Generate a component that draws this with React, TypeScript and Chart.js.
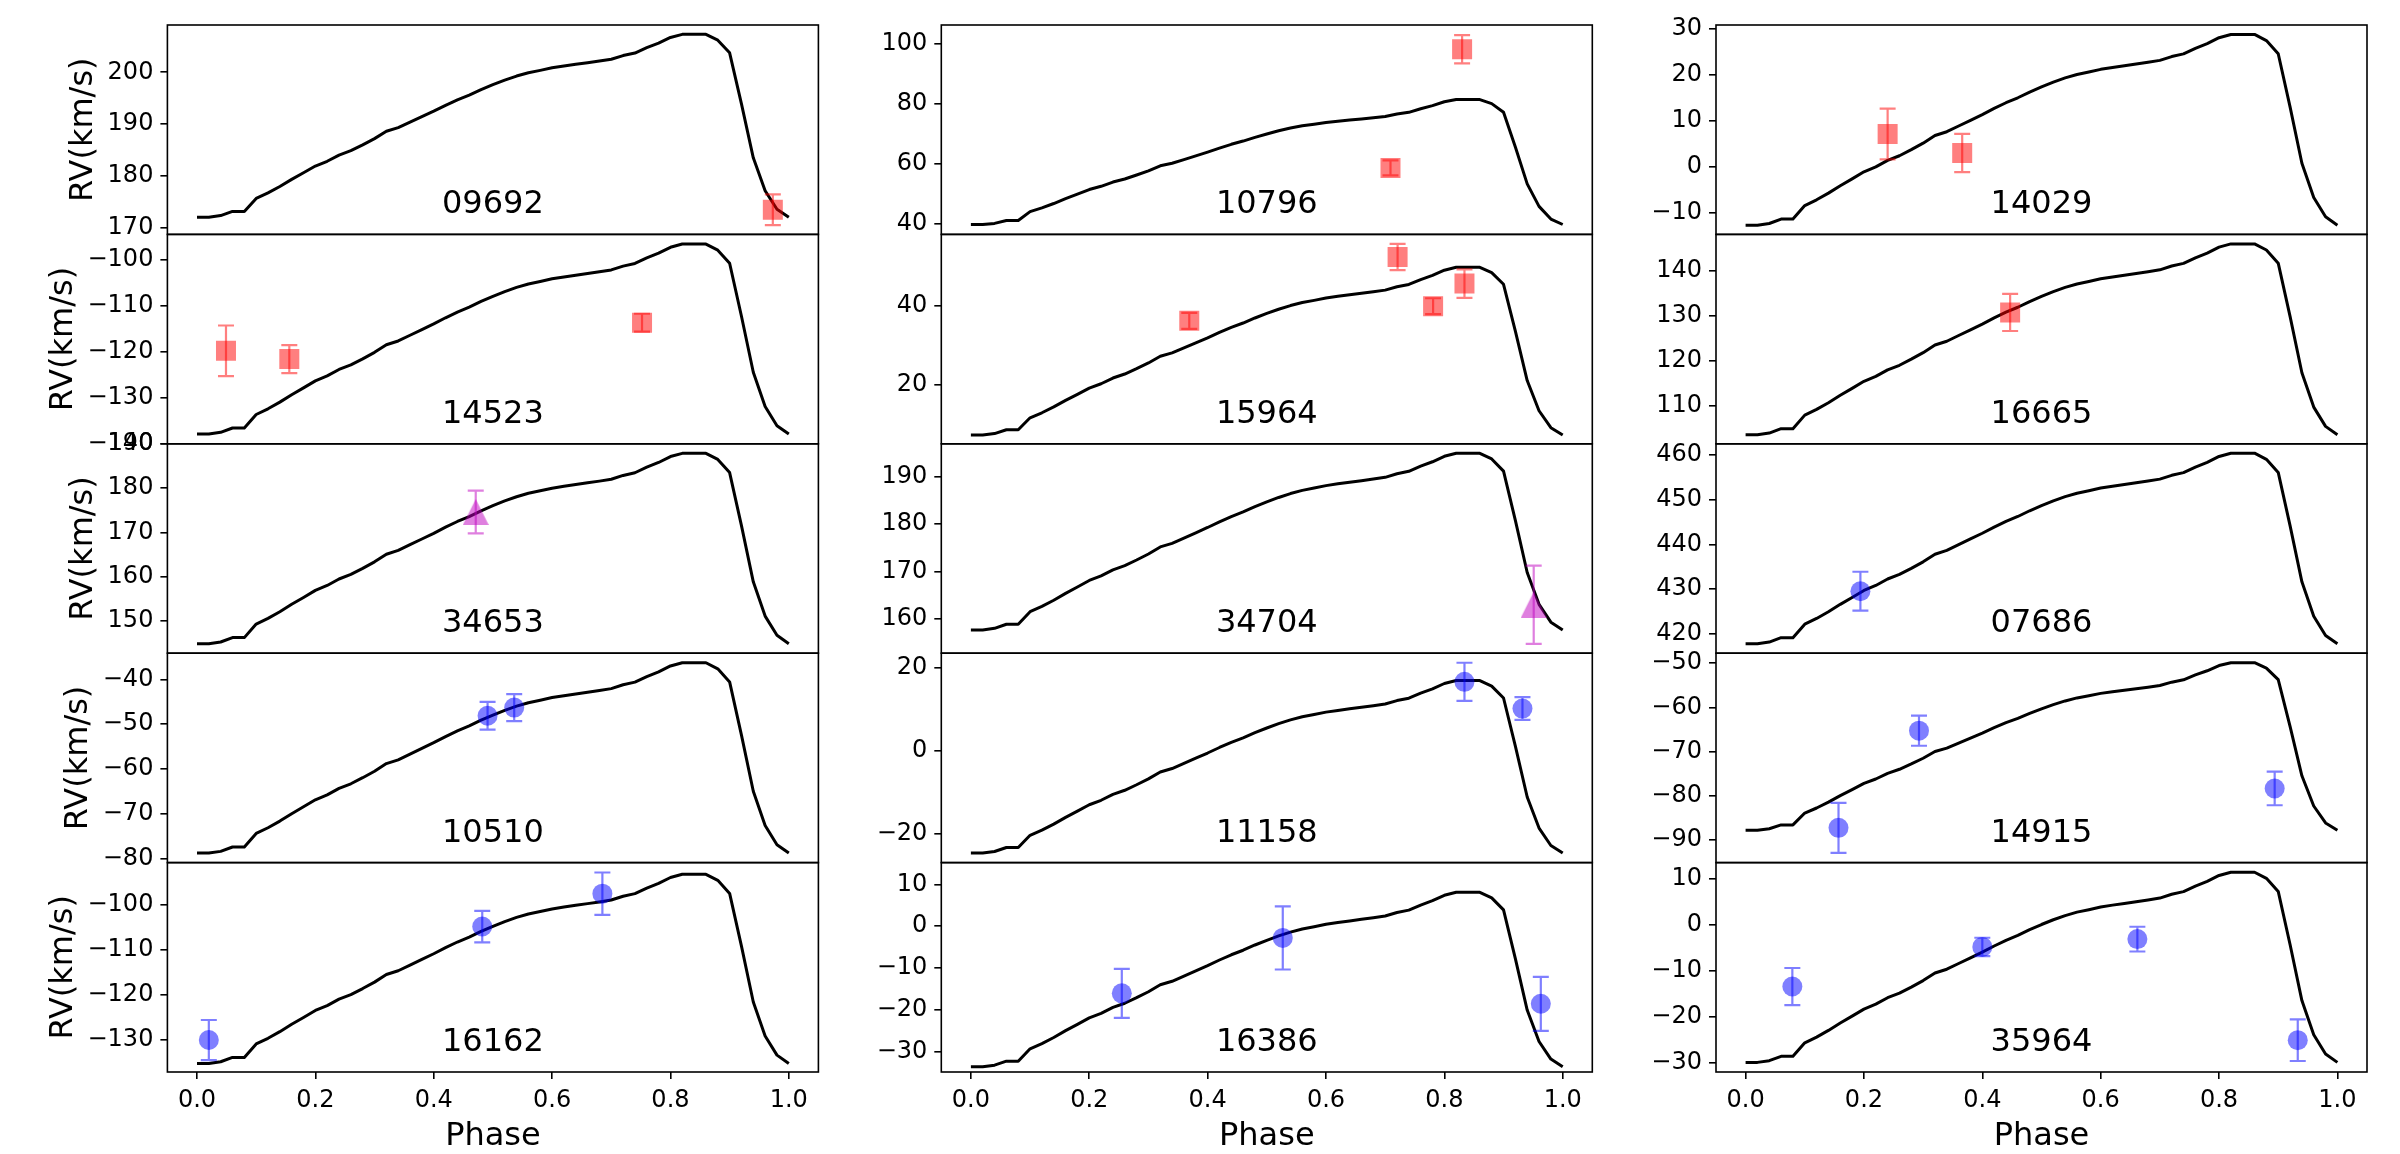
import { useEffect, useRef } from 'react';
import { Chart, registerables } from 'chart.js';

Chart.register(...registerables);

const FONT_FAMILY = "'DejaVu Sans', 'Liberation Sans', sans-serif";
const TICK_FONT = 24;
const LABEL_FONT = 32;

// Star identifiers, row-major (5 rows x 3 columns)
const starIds = [
  '09692', '10796', '14029',
  '14523', '15964', '16665',
  '34653', '34704', '07686',
  '10510', '11158', '14915',
  '16162', '16386', '35964',
];

// RV template: phase grid and normalised shape (0 = minimum, 1 = maximum)
const templatePhase = [
  0.0, 0.02, 0.04, 0.06, 0.08, 0.1, 0.12, 0.14, 0.16, 0.18,
  0.2, 0.22, 0.24, 0.26, 0.28, 0.3, 0.32, 0.34, 0.36, 0.38,
  0.4, 0.42, 0.44, 0.46, 0.48, 0.5, 0.52, 0.54, 0.56, 0.58,
  0.6, 0.62, 0.64, 0.66, 0.68, 0.7, 0.72, 0.74, 0.76, 0.78,
  0.8, 0.82, 0.84, 0.86, 0.88, 0.9, 0.92, 0.94, 0.96, 0.98, 1.0,
];
const templateShape = [
  0.0, 0.0, 0.009, 0.032, 0.032, 0.103, 0.133, 0.168, 0.207, 0.243,
  0.28, 0.306, 0.34, 0.364, 0.396, 0.43, 0.47, 0.49, 0.52, 0.55,
  0.58, 0.612, 0.642, 0.668, 0.698, 0.725, 0.75, 0.772, 0.79, 0.803,
  0.817, 0.827, 0.836, 0.845, 0.854, 0.864, 0.884, 0.898, 0.927, 0.952,
  0.983, 1.0, 1.0, 1.0, 0.968, 0.899, 0.62, 0.325, 0.145, 0.044, 0.0,
];

// Minimum and maximum of the fitted template for each star (km/s)
const curveMin = [
  172.1, 39.8, -12.7,
  -137.9, 7.4, 103.6,
  144.75, 157.7, 417.8,
  -78.7, -24.6, -87.75,
  -135.2, -33.6, -30.0,
];
const curveMax = [
  207.3, 81.5, 28.7,
  -96.6, 49.7, 145.9,
  187.9, 194.9, 460.4,
  -36.3, 17.0, -49.9,
  -93.2, 8.1, 11.5,
];

// y-axis limits and tick values for each panel
const yMin = [
  168.8, 36.5, -14.7,
  -140.02, 5.2, 101.6,
  142.6, 152.8, 415.7,
  -80.82, -26.9, -95.05,
  -137.1, -34.85, -32.1,
];
const yMax = [
  209.1, 106.4, 30.75,
  -94.5, 58.0, 148.0,
  190.06, 196.9, 462.5,
  -34.18, 23.6, -47.75,
  -90.6, 15.2, 13.6,
];
const yTicks = [
  [170, 180, 190, 200], [40, 60, 80, 100], [-10, 0, 10, 20, 30],
  [-140, -130, -120, -110, -100], [20, 40], [110, 120, 130, 140],
  [150, 160, 170, 180, 190], [160, 170, 180, 190], [420, 430, 440, 450, 460],
  [-80, -70, -60, -50, -40], [-20, 0, 20], [-90, -80, -70, -60, -50],
  [-130, -120, -110, -100], [-30, -20, -10, 0, 10], [-30, -20, -10, 0, 10],
];
const phaseTicks = [0.0, 0.2, 0.4, 0.6, 0.8, 1.0];

// Measured radial velocities: phase, RV (km/s), 1-sigma error, marker type
const obsPhase = [
  [0.973], [0.709, 0.83], [0.24, 0.366],
  [0.049, 0.156, 0.752], [0.369, 0.721, 0.781, 0.834], [0.447],
  [0.471], [0.951], [0.194],
  [0.491, 0.536], [0.834, 0.932], [0.157, 0.293, 0.894],
  [0.02, 0.482, 0.685], [0.255, 0.527, 0.963], [0.079, 0.4, 0.662, 0.933],
];
const obsRV = [
  [173.55], [58.7, 98.3], [7.1, 2.95],
  [-119.8, -121.6, -113.7], [36.2, 52.3, 39.9, 45.6], [130.7],
  [174.6], [163.0], [429.55],
  [-48.1, -46.3], [16.7, 10.25], [-87.2, -65.25, -78.3],
  [-130.0, -104.8, -97.5], [-16.05, -2.8, -18.55], [-13.45, -4.8, -3.1, -25.15],
];
const obsErr = [
  [2.95], [2.5, 4.7], [5.5, 4.15],
  [5.5, 3.05, 1.95], [2.0, 3.3, 2.0, 3.6], [4.1],
  [4.85], [8.25], [4.35],
  [3.1, 3.0], [4.6, 2.75], [5.65, 3.4, 3.8],
  [4.45, 3.5, 4.7], [5.85, 7.55, 6.45], [4.05, 2.0, 2.7, 4.55],
];
const obsMarker = [
  'square', 'square', 'square',
  'square', 'square', 'square',
  'triangle', 'triangle', 'circle',
  'circle', 'circle', 'circle',
  'circle', 'circle', 'circle',
];

const markerColor: Record<string, string> = {
  square: 'rgba(255, 0, 0, 0.5)',
  triangle: 'rgba(191, 0, 191, 0.5)',
  circle: 'rgba(0, 0, 255, 0.5)',
};

// Page layout (pixels)
const PAGE_W = 2400;
const PAGE_H = 1154;
const ROWS = 5;
const COLS = 3;
const PLOT_TOP = 25;
const PLOT_BOTTOM = 1072;
const COL_LEFT = [167.4, 941.3, 1716.0];
const COL_WIDTH = 651;
const AXIS_W = 140;
const LEFT_SPACE = 165;
const CANVAS_W = LEFT_SPACE + COL_WIDTH + 24;
const X_AXIS_H = 60;
const TICK_LEN = 7;
const TICK_PAD = 7;
const SPINE_W = 1.6;
const TRIANGLE_SIZE = 26;

const fmtRV = (v: number) => String(Math.round(v)).replace('-', '\u2212');

function triangleImage(color: string) {
  const s = TRIANGLE_SIZE;
  const c = document.createElement('canvas');
  c.width = s;
  c.height = s;
  const g = c.getContext('2d')!;
  g.fillStyle = color;
  g.beginPath();
  g.moveTo(s / 2, 0);
  g.lineTo(s, s);
  g.lineTo(0, s);
  g.closePath();
  g.fill();
  return c;
}

const errorBarPlugin = {
  id: 'errorBars',
  afterDatasetDraw(chart: any, args: any) {
    const ds = chart.data.datasets[args.index];
    if (!ds.errors) return;
    const meta = args.meta;
    const yScale = chart.scales[meta.yAxisID];
    const ctx = chart.ctx;
    ctx.save();
    ctx.strokeStyle = ds.errorColor;
    ctx.lineWidth = 2.2;
    ctx.beginPath();
    ds.data.forEach((pt: any, i: number) => {
      const x = meta.data[i].x;
      const yHi = yScale.getPixelForValue(pt.y + ds.errors[i]);
      const yLo = yScale.getPixelForValue(pt.y - ds.errors[i]);
      ctx.moveTo(x, yHi);
      ctx.lineTo(x, yLo);
      ctx.moveTo(x - 8, yHi);
      ctx.lineTo(x + 8, yHi);
      ctx.moveTo(x - 8, yLo);
      ctx.lineTo(x + 8, yLo);
    });
    ctx.stroke();
    ctx.restore();
  },
};

function makePanelPlugin(col: number) {
  return {
    id: 'panelFrames',
    afterDraw(chart: any) {
      const { ctx, chartArea } = chart;
      const cx = (chartArea.left + chartArea.right) / 2;
      ctx.save();
      for (let r = 0; r < ROWS; r++) {
        const p = r * COLS + col;
        const ys = chart.scales['y' + r];
        const h = ys.bottom - ys.top;
        ctx.strokeStyle = '#000';
        ctx.lineWidth = SPINE_W;
        ctx.strokeRect(chartArea.left, ys.top, chartArea.right - chartArea.left, h);

        ctx.fillStyle = '#000';
        ctx.font = `${LABEL_FONT}px ${FONT_FAMILY}`;
        ctx.textAlign = 'center';
        ctx.textBaseline = 'alphabetic';
        ctx.fillText(starIds[p], cx, ys.bottom - 0.1 * h);

        if (col === 0) {
          ctx.font = `${TICK_FONT}px ${FONT_FAMILY}`;
          const maxW = Math.max(...yTicks[p].map((v) => ctx.measureText(fmtRV(v)).width));
          const xr = chartArea.left - TICK_LEN - TICK_PAD - maxW - 8;
          ctx.save();
          ctx.translate(xr, ys.top + h / 2);
          ctx.rotate(-Math.PI / 2);
          ctx.font = `${LABEL_FONT}px ${FONT_FAMILY}`;
          ctx.textAlign = 'center';
          ctx.textBaseline = 'bottom';
          ctx.fillText('RV(km/s)', 0, 0);
          ctx.restore();
        }
      }
      ctx.font = `${LABEL_FONT}px ${FONT_FAMILY}`;
      ctx.textAlign = 'center';
      ctx.textBaseline = 'alphabetic';
      ctx.fillStyle = '#000';
      ctx.fillText('Phase', cx, 1145);
      ctx.restore();
    },
  };
}

function buildConfig(col: number, canvasLeft: number): any {
  const datasets: any[] = [];
  const scales: any = {
    x: {
      type: 'linear',
      position: 'bottom',
      min: -0.05,
      max: 1.05,
      afterBuildTicks: (s: any) => {
        s.ticks = phaseTicks.map((v) => ({ value: v }));
      },
      afterFit: (s: any) => {
        s.height = X_AXIS_H;
      },
      ticks: {
        callback: (v: any) => Number(v).toFixed(1),
        font: { family: FONT_FAMILY, size: TICK_FONT },
        color: '#000',
        padding: TICK_PAD,
        maxRotation: 0,
        autoSkip: false,
      },
      grid: { drawOnChartArea: false, tickLength: TICK_LEN, color: '#000', lineWidth: SPINE_W },
      border: { display: false },
    },
  };

  for (let r = 0; r < ROWS; r++) {
    const p = r * COLS + col;
    const yId = 'y' + r;
    scales[yId] = {
      type: 'linear',
      position: 'left',
      stack: 'column',
      stackWeight: 1,
      weight: ROWS - r,
      min: yMin[p],
      max: yMax[p],
      afterBuildTicks: (s: any) => {
        s.ticks = yTicks[p].map((v) => ({ value: v }));
      },
      afterFit: (s: any) => {
        s.width = AXIS_W;
      },
      ticks: {
        callback: (v: any) => fmtRV(Number(v)),
        font: { family: FONT_FAMILY, size: TICK_FONT },
        color: '#000',
        padding: TICK_PAD,
        autoSkip: false,
      },
      grid: { drawOnChartArea: false, tickLength: TICK_LEN, color: '#000', lineWidth: SPINE_W },
      border: { display: false },
    };

    datasets.push({
      label: starIds[p] + ' template',
      data: templatePhase.map((x, i) => ({
        x,
        y: curveMin[p] + (curveMax[p] - curveMin[p]) * templateShape[i],
      })),
      xAxisID: 'x',
      yAxisID: yId,
      borderColor: '#000',
      borderWidth: 3,
      borderJoinStyle: 'round',
      pointRadius: 0,
      fill: false,
      tension: 0,
      order: 1,
    });

    const kind = obsMarker[p];
    const color = markerColor[kind];
    const style =
      kind === 'square' ? 'rect' : kind === 'circle' ? 'circle' : triangleImage(color);
    datasets.push({
      label: starIds[p] + ' observed',
      data: obsPhase[p].map((x, i) => ({ x, y: obsRV[p][i] })),
      xAxisID: 'x',
      yAxisID: yId,
      showLine: false,
      pointStyle: style,
      pointRadius: kind === 'square' ? 14.142 : 10,
      pointBackgroundColor: color,
      pointBorderWidth: 0,
      backgroundColor: color,
      borderColor: color,
      errors: obsErr[p],
      errorColor: color,
      order: 0,
    });
  }

  const chartLeft = COL_LEFT[col] - canvasLeft;
  return {
    type: 'line',
    data: { datasets },
    options: {
      animation: false,
      responsive: false,
      events: [],
      layout: {
        padding: {
          left: chartLeft - AXIS_W,
          right: CANVAS_W - chartLeft - COL_WIDTH,
          top: PLOT_TOP,
          bottom: PAGE_H - PLOT_BOTTOM - X_AXIS_H,
        },
      },
      plugins: {
        legend: { display: false },
        tooltip: { enabled: false },
        title: { display: false },
      },
      scales,
    },
    plugins: [errorBarPlugin, makePanelPlugin(col)],
  };
}

export default function App() {
  const ref0 = useRef<HTMLCanvasElement>(null);
  const ref1 = useRef<HTMLCanvasElement>(null);
  const ref2 = useRef<HTMLCanvasElement>(null);
  const refs = [ref0, ref1, ref2];
  const canvasLefts = COL_LEFT.map((l) => Math.round(l - LEFT_SPACE));

  useEffect(() => {
    const charts = refs.map((r, c) => new Chart(r.current!, buildConfig(c, canvasLefts[c])));
    return () => charts.forEach((ch) => ch.destroy());
  }, []);

  return (
    <div
      style={{
        position: 'absolute',
        left: 0,
        top: 0,
        width: PAGE_W,
        height: PAGE_H,
        background: '#fff',
        overflow: 'hidden',
      }}
    >
      {refs.map((r, c) => (
        <canvas
          key={c}
          ref={r}
          width={CANVAS_W}
          height={PAGE_H}
          style={{ position: 'absolute', left: canvasLefts[c], top: 0 }}
        />
      ))}
    </div>
  );
}
